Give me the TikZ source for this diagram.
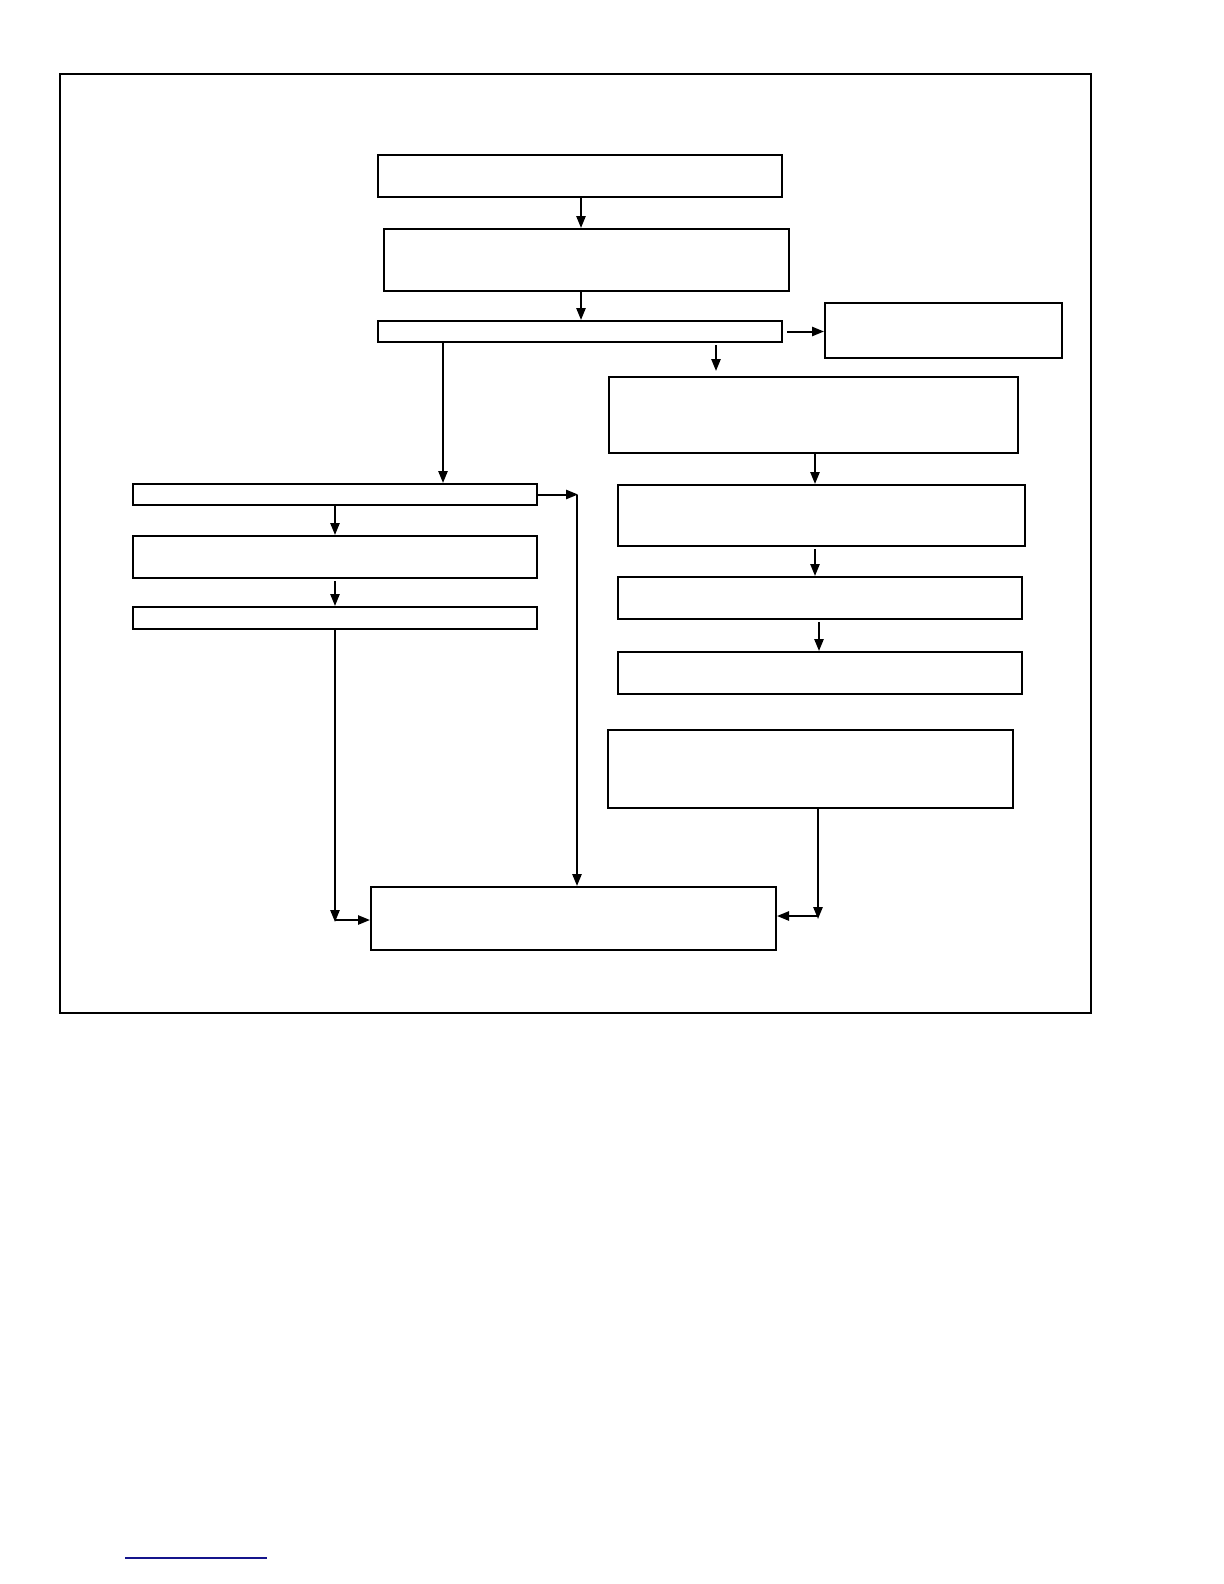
\documentclass[tikz,border=0pt]{standalone}
\usetikzlibrary{arrows.meta}
\tikzset{
    box/.style={draw, rectangle, line width=1pt, inner sep=0pt, minimum width=202pt},
    arr/.style={line width=1pt, -{Triangle[length=6pt,width=4.6pt]}}
}
\begin{document}
\begin{tikzpicture}[x=0.5pt, y=-0.5pt]
    \useasboundingbox (0,0) rectangle (1224,1584);
    \draw[line width=0.8pt] (60,74) rectangle (1091,1013);
    % main column
    \node[box, minimum height=21pt] (start) at (580,176) {};
    \node[box, minimum width=202.5pt, minimum height=31pt] (second) at (586.5,260) {};
    \node[box, minimum height=10.5pt] (split) at (580,331.5) {};
    \node[box, minimum width=118.5pt, minimum height=27.5pt] (side) at (943.5,330.5) {};
    % right column
    \node[box, minimum width=204.5pt, minimum height=38pt] (rA) at (813.5,415) {};
    \node[box, minimum width=203.5pt, minimum height=30.5pt] (rB) at (821.5,515.5) {};
    \node[box, minimum height=21pt] (rC) at (820,598) {};
    \node[box, minimum height=21pt] (rD) at (820,673) {};
    \node[box, minimum width=202.5pt, minimum height=39pt] (rE) at (810.5,769) {};
    % left column
    \node[box, minimum height=10.5pt] (lA) at (335,494.5) {};
    \node[box, minimum height=21pt] (lB) at (335,557) {};
    \node[box, minimum height=11pt] (lC) at (335,618) {};
    % end
    \node[box, minimum width=202.5pt, minimum height=31.5pt] (final) at (573.5,918.5) {};

    \draw[arr] (start.south -| 581,0) -- (second.north -| 581,0);
    \draw[arr] (second.south -| 581,0) -- (split.north -| 581,0);
    \draw[arr, shorten <=2pt] (split.east) -- (side.west |- split.east);
    \draw[arr, shorten <=1pt, shorten >=2.5pt] (716,0 |- split.south) -- (716,0 |- rA.north);
    \draw[arr] (443,0 |- split.south) -- (443,0 |- lA.north);
    \draw[arr] (815,0 |- rA.south) -- (815,0 |- rB.north);
    \draw[arr, shorten <=1pt] (815,0 |- rB.south) -- (815,0 |- rC.north);
    \draw[arr, shorten <=1pt] (819,0 |- rC.south) -- (819,0 |- rD.north);
    \draw[arr] (lA.south) -- (lB.north);
    \draw[arr, shorten <=1pt] (lB.south) -- (lC.north);
    % long connectors to the end box
    \coordinate (turn) at (578,0 |- lA.east);
    \draw[arr] (lA.east) -- (turn);
    \draw[arr] (577,0 |- lA.east) -- (577,0 |- final.north);
    \coordinate (leftend) at (335,922);
    \draw[arr] (lC.south) -- (leftend);
    \draw[arr] (335,920) -- (final.west |- 0,920);
    \coordinate (rightend) at (818,919);
    \draw[arr] (818,0 |- rE.south) -- (rightend);
    \draw[arr] (818,916) -- (final.east |- 0,916);
    % footnote rule
    \draw[color={rgb,255:red,20;green,20;blue,140}, line width=0.6pt] (125,1558) -- (267,1558);
\end{tikzpicture}
\end{document}
